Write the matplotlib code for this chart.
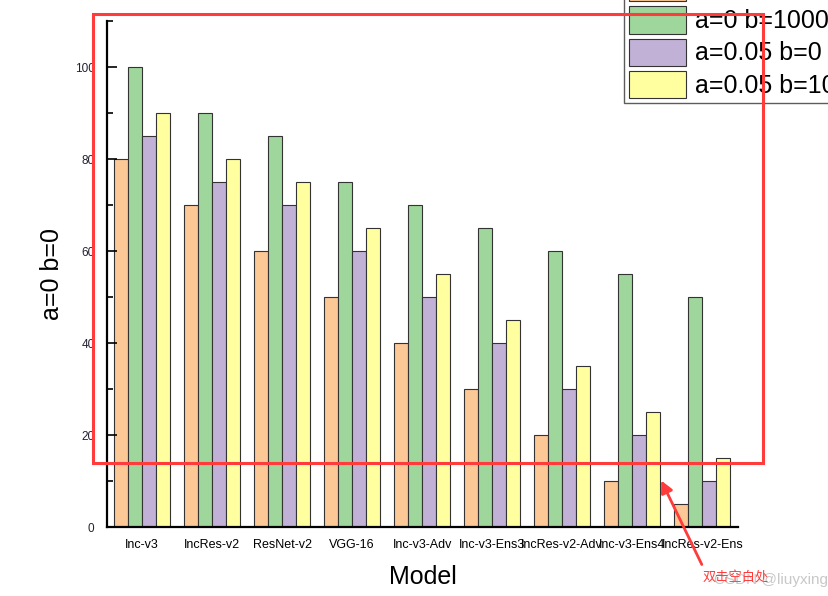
import numpy as np
import matplotlib
matplotlib.use("Agg")
import matplotlib.pyplot as plt
from matplotlib.patches import Rectangle, FancyArrowPatch

plt.rcParams['font.family'] = ['Liberation Sans', 'DejaVu Sans']

models = ['Inc-v3', 'IncRes-v2', 'ResNet-v2', 'VGG-16', 'Inc-v3-Adv',
          'Inc-v3-Ens3', 'IncRes-v2-Adv', 'Inc-v3-Ens4', 'IncRes-v2-Ens']
series_names = ['a=0 b=0', 'a=0 b=1000', 'a=0.05 b=0', 'a=0.05 b=1000']
a0_b0 = [80, 70, 60, 50, 40, 30, 20, 10, 5]
a0_b1000 = [100, 90, 85, 75, 70, 65, 60, 55, 50]
a005_b0 = [85, 75, 70, 60, 50, 40, 30, 20, 10]
a005_b1000 = [90, 80, 75, 65, 55, 45, 35, 25, 15]
colors = ['#fbc896', '#9fd69c', '#c2b1d6', '#ffff9f']

W, H = 829, 596
fig = plt.figure(figsize=(W / 100, H / 100), dpi=100)
ax = fig.add_axes([107 / W, 69 / H, 631 / W, 506 / H])

x = np.arange(len(models))
width = 0.2
all_series = [a0_b0, a0_b1000, a005_b0, a005_b1000]
bars = []
for j, vals in enumerate(all_series):
    b = ax.bar(x + 0.5 + width * (j - 1.5), vals, width, color=colors[j],
               edgecolor='#333333', linewidth=0.8, label=series_names[j])
    bars.append(b)

ax.set_xlim(0, 9.01)
ax.set_ylim(0, 110)
ax.set_xticks(x + 0.5)
ax.set_xticklabels(models, fontsize=9)
ax.set_yticks(np.arange(0, 101, 20))
ax.set_yticks(np.arange(0, 111, 10), minor=True)
ax.tick_params(axis='x', length=0, pad=9)
ax.tick_params(axis='y', which='major', direction='in', length=7, width=1.2, pad=9, labelsize=8.5, labelcolor='#222233')
ax.tick_params(axis='y', which='minor', direction='in', length=4, width=1.2)
for s in ['top', 'right']:
    ax.spines[s].set_visible(False)
for s in ['left', 'bottom']:
    ax.spines[s].set_linewidth(1.6)

ax.set_xlabel('Model', fontsize=18, labelpad=10)
ax.set_ylabel('a=0 b=0', fontsize=18, labelpad=8)

leg = fig.legend(handles=bars, labels=series_names, loc='lower left',
                 bbox_to_anchor=(624 / W, 1 - 103 / H), fontsize=18,
                 frameon=True, fancybox=False, edgecolor='#333333',
                 handlelength=2.3, handleheight=1.3, labelspacing=0.2,
                 handletextpad=0.35, borderpad=0.2, borderaxespad=0)
leg.get_frame().set_linewidth(1.0)

# screenshot annotations
fig.patches.append(Rectangle((93 / W, 1 - 463 / H), 670 / W, 449 / H,
                             transform=fig.transFigure, fill=False,
                             edgecolor='#ff3b3b', linewidth=2.2, zorder=10))
fig.patches.append(FancyArrowPatch((703 / W, 1 - 567 / H), (660 / W, 1 - 478 / H),
                                   transform=fig.transFigure, arrowstyle='-|>',
                                   mutation_scale=18, color='#ff3b3b',
                                   linewidth=2, zorder=10))
fig.text(714 / W, 1 - 584 / H, 'CSDN @liuyxing', fontsize=11, color='#c8c8c8',
         family=['Liberation Sans', 'DejaVu Sans'])
fig.text(703 / W, 1 - 582 / H, '双击空白处', fontsize=9.5, color='#ff3b3b',
         family=['Noto Sans CJK SC', 'DejaVu Sans'])

fig.savefig('out.png', dpi=100)
